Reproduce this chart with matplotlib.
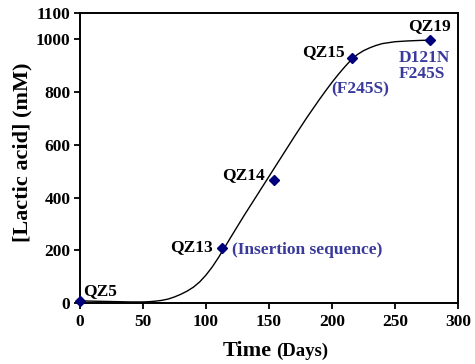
import matplotlib
matplotlib.use("Agg")
import matplotlib.pyplot as plt

plt.rcParams['font.family'] = ['Liberation Serif', 'DejaVu Serif']
plt.rcParams['font.weight'] = 'bold'

# measured strains
days = [0, 113, 154, 216, 278]
lactic = [8, 210, 468, 931, 996]
strains = ["QZ5", "QZ13", "QZ14", "QZ15", "QZ19"]

# fitted curve
curve_days = [0, 10, 20, 30, 40, 50, 55, 60, 65, 70, 75, 80, 85, 90, 95, 100,
              105, 110, 115, 120, 125, 130, 140, 150, 160, 170, 180, 190, 195,
              200, 205, 210, 215, 220, 225, 230, 235, 240, 250, 260, 270, 278]
curve_vals = [8, 7, 6, 5, 4, 4, 5, 7, 10, 15, 23, 33, 45, 60, 80, 106,
              137, 173, 212, 252, 291, 330, 405, 480, 555, 630, 703, 772, 805,
              837, 867, 895, 921, 942, 957, 968, 977, 984, 991, 994, 996, 997]

xticks = [0, 50, 100, 150, 200, 250, 300]
yticks = [0, 200, 400, 600, 800, 1000, 1100]

blue = '#3a3a9c'
navy = '#00007a'

fig = plt.figure(figsize=(4.75, 3.64), dpi=100)
ax = fig.add_axes([0.1684, 0.1676, 0.7958, 0.7967])

ax.plot(curve_days, curve_vals, color='black', lw=1.0, clip_on=False, zorder=2)
ax.plot(days, lactic, linestyle='none', marker='D', markersize=5,
        color=navy, clip_on=False, zorder=3)

ax.set_xlim(0, 300)
ax.set_ylim(0, 1100)
ax.set_xticks(xticks)
ax.set_yticks(yticks)
ax.tick_params(direction='out', length=4, width=1.3, labelsize=12.5, pad=3)
ax.tick_params(axis='x', pad=4)
for lab in ax.get_xticklabels() + ax.get_yticklabels():
    lab.set_fontweight('bold')
for s in ax.spines.values():
    s.set_linewidth(1.4)

fs = 12.5
# strain labels
ax.text(2.5, 30, strains[0], fontsize=fs, ha='left', va='baseline', color='black')
ax.text(105.5, 212, strains[1], fontsize=fs, ha='right', va='center', color='black')
ax.text(146.8, 486, strains[2], fontsize=fs, ha='right', va='center', color='black')
ax.text(210.3, 952, strains[3], fontsize=fs, ha='right', va='center', color='black')
ax.text(277, 1051, strains[4], fontsize=fs, ha='center', va='center', color='black')

# mutation labels
ax.text(120.6, 201, "(Insertion sequence)", fontsize=fs, ha='left', va='center', color=blue)
ax.text(222, 810, "(F245S)", fontsize=fs, ha='center', va='center', color=blue)
ax.text(253, 898, "D121N\nF245S", fontsize=fs, ha='left', va='center',
        color=blue, linespacing=1.0, multialignment='left')

# y label
fig.text(0.0463, 0.581, "[Lactic acid] (mM)", fontsize=16, fontweight='bold',
         rotation=90, ha='center', va='center')

# x label: large "Time" + smaller "(Days)"
fig.text(0.5726, 0.0228, "Time", fontsize=16, fontweight='bold', ha='right', va='baseline')
fig.text(0.581, 0.0228, "(Days)", fontsize=13.5, fontweight='bold', ha='left', va='baseline')

fig.savefig("out.png", dpi=100)
